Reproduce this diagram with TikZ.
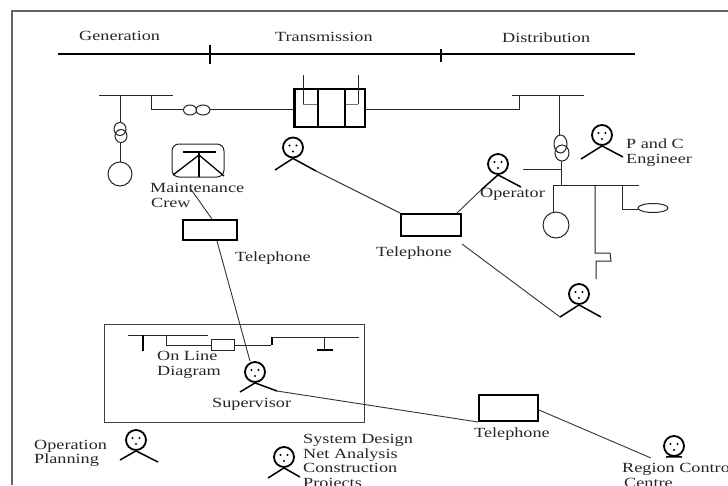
\documentclass[tikz,border=0pt]{standalone}
\usepackage{fontspec}
\setmainfont[FakeStretch=1.3]{Liberation Serif}
\newcommand{\stick}[5]{% name, head x, head y, left arm end, right arm end
  \node[head] (#1) at (#2,#3) {};
  \fill (#2-3.5,#3-2) circle (1.1) (#2+3.5,#3-2) circle (1.1) (#2,#3+4) circle (1.1);
  \coordinate (#1-l) at #4;
  \coordinate (#1-r) at #5;
  \draw[limb] (#1-l) -- (#1.south) -- (#1-r);
}
\tikzset{
  x=1pt,y=-1pt,
  wire/.style={line width=1pt,draw=black!85},
  heavy/.style={line width=2.4pt,draw=black},
  limb/.style={line width=1.5pt},
  link/.style={line width=.9pt,draw=black!80},
  head/.style={circle,draw,line width=1.8pt,minimum size=20pt,inner sep=0pt},
  phone/.style={rectangle,draw,line width=2pt,inner sep=0pt},
  lab/.style={anchor=base west,inner sep=0pt,font=\fontsize{14}{14}\selectfont,text=black!85},
}
\begin{document}
\begin{tikzpicture}
\useasboundingbox (0,0) rectangle (728,485);
\clip (0,0) rectangle (728,485);
\fill[white] (0,0) rectangle (728,485);
% frame
\draw[line width=1.4pt,draw=black!60] (12,485) -- (12,11) -- (728,11);
% zones
\draw[line width=1.3pt] (58,54) -- (635,54);
\draw[line width=1.7pt] (210,45) -- (210,64) (441,49) -- (441,62);
\node[lab] (tgen) at (79,40) {Generation};
\node[lab] (ttra) at (275,41) {Transmission};
\node[lab] (tdis) at (502,42) {Distribution};
% generation side
\draw[wire] (99,95) -- (173,95);
\draw[wire] (120,95) -- (120,123);
\draw[wire] (120,129) ellipse (6 and 6.5) (121,136) ellipse (6 and 6.5);
\draw[wire] (120,142) -- (120,162);
\draw[wire] (120,174) circle (12);
\draw[wire] (151,95) -- (151,109) -- (184,109);
\draw[wire] (190,110) ellipse (6.5 and 5) (203,110) ellipse (7 and 5);
\draw[wire] (210,109) -- (294,109);
% transmission breakers
\draw[heavy] (294.5,89) rectangle (365,127);
\draw[heavy] (318,89) -- (318,127) (345,89) -- (345,127);
\draw[wire] (303,75) -- (303,104);
\draw[wire,draw=black!55] (303,104) -- (317,104);
\draw[wire] (358,75) -- (358,104);
\draw[wire,draw=black!55] (358,104) -- (346,104);
% distribution side
\draw[wire] (365,109) -- (519,109) -- (519,95);
\draw[wire] (512,95) -- (584,95);
\draw[wire] (559,95) -- (559,135);
\draw[wire] (560.5,144) ellipse (6.5 and 9) (562,153) ellipse (7 and 8);
\draw[wire] (561,161) -- (561,185);
\draw[wire] (523,169) -- (561,169);
\draw[wire] (553,185) -- (639,185);
\draw[wire] (553,185) -- (553,212);
\draw[wire] (556,225) circle (13);
\draw[wire] (595,185) -- (595,253) -- (610,253) -- (611,261) -- (596,261) -- (596,279);
\draw[wire] (622,185) -- (622,209) -- (638,209);
\draw[wire] (653,208) ellipse (15 and 4.5);
% maintenance icon
\draw[wire,rounded corners=7pt] (172,144) rectangle (224,177);
\draw[line width=1.5pt] (183,152) -- (216,152);
\draw[line width=1.5pt] (199,152) -- (199,177);
\draw[line width=1.3pt] (173,175) -- (199,155) -- (224,176);
\node[lab] (tmai) at (150,192) {Maintenance};
\node[lab] (tcre) at (151,207) {Crew};
% telephones
\node[phone,minimum width=54pt,minimum height=20pt] (tel1) at (210,230) {};
\node[phone,minimum width=60pt,minimum height=22pt] (tel2) at (431,225) {};
\node[phone,minimum width=59pt,minimum height=26pt] (tel3) at (508.5,408) {};
\node[lab] (ltel1) at (235,261) {Telephone};
\node[lab] (ltel2) at (376,256) {Telephone};
\node[lab] (ltel3) at (474,437) {Telephone};
% people
\stick{pa}{293}{147.5}{(275,170)}{(316,171)}
\stick{pb}{498}{164}{(481,190)}{(521,187)}
\stick{pc}{602}{135}{(581,159)}{(623,157)}
\stick{pd}{579}{294}{(560,317)}{(601,317)}
\stick{pe}{255}{372}{(240,392)}{(277,391)}
\stick{pf}{136}{440}{(120,460)}{(158,462)}
\stick{pg}{284}{457}{(268,478)}{(300,477)}
\stick{ph}{674}{446}{(666,457)}{(682,457)}
% on-line diagram panel
\draw[line width=.8pt,draw=black!75] (104,324) rectangle (364,422);
\draw[wire] (128,335) -- (208,335);
\draw[heavy] (143,335) -- (143,351);
\draw[wire] (166,335) -- (166,345) -- (211,345);
\node[draw,wire,minimum width=23pt,minimum height=11pt,inner sep=0pt] (mini) at (222.5,345) {};
\draw[wire] (mini.east) -- (271,345);
\draw[heavy] (272,345) -- (272,337);
\draw[wire] (272,337) -- (359,337);
\draw[wire] (324,337) -- (324,349);
\draw[heavy] (317,350) -- (333,350);
\node[lab] (tonl) at (157,360) {On Line};
\node[lab] (tdia) at (157,375) {Diagram};
\node[lab] (tsup) at (212,407) {Supervisor};
% other labels
\node[lab] (top) at (480,197) {Operator};
\node[lab] (tpc) at (626,148) {P and C};
\node[lab] (teng) at (626,163) {Engineer};
\node[lab] (topl) at (34,449) {Operation};
\node[lab] (tpla) at (34,463) {Planning};
\node[lab] (tsys) at (303,443) {System Design};
\node[lab] (tnet) at (303,458) {Net Analysis};
\node[lab] (tcon) at (303,472) {Construction};
\node[lab] (tpro) at (303,487) {Projects};
\node[lab] (treg) at (622,472) {Region Control};
\node[lab] (tcen) at (624,487) {Centre};
% connectors
\coordinate (m1) at (190,188);
\draw[link] (m1) -- ([xshift=2pt]tel1.north);
\draw[link] ([xshift=7pt]tel1.south) -- ([xshift=-5pt]pe.north);
\draw[link] (pa-r) -- (tel2.north west);
\draw[link] (pb-l) -- ([xshift=-5pt]tel2.north east);
\draw[link] ([yshift=-7pt]tel2.south east) -- (pd-l);
\draw[link] (pe-r) -- (tel3.south west);
\coordinate (m2) at (651,458);
\draw[link] ([yshift=-2pt]tel3.east) -- (m2);
\end{tikzpicture}
\end{document}
